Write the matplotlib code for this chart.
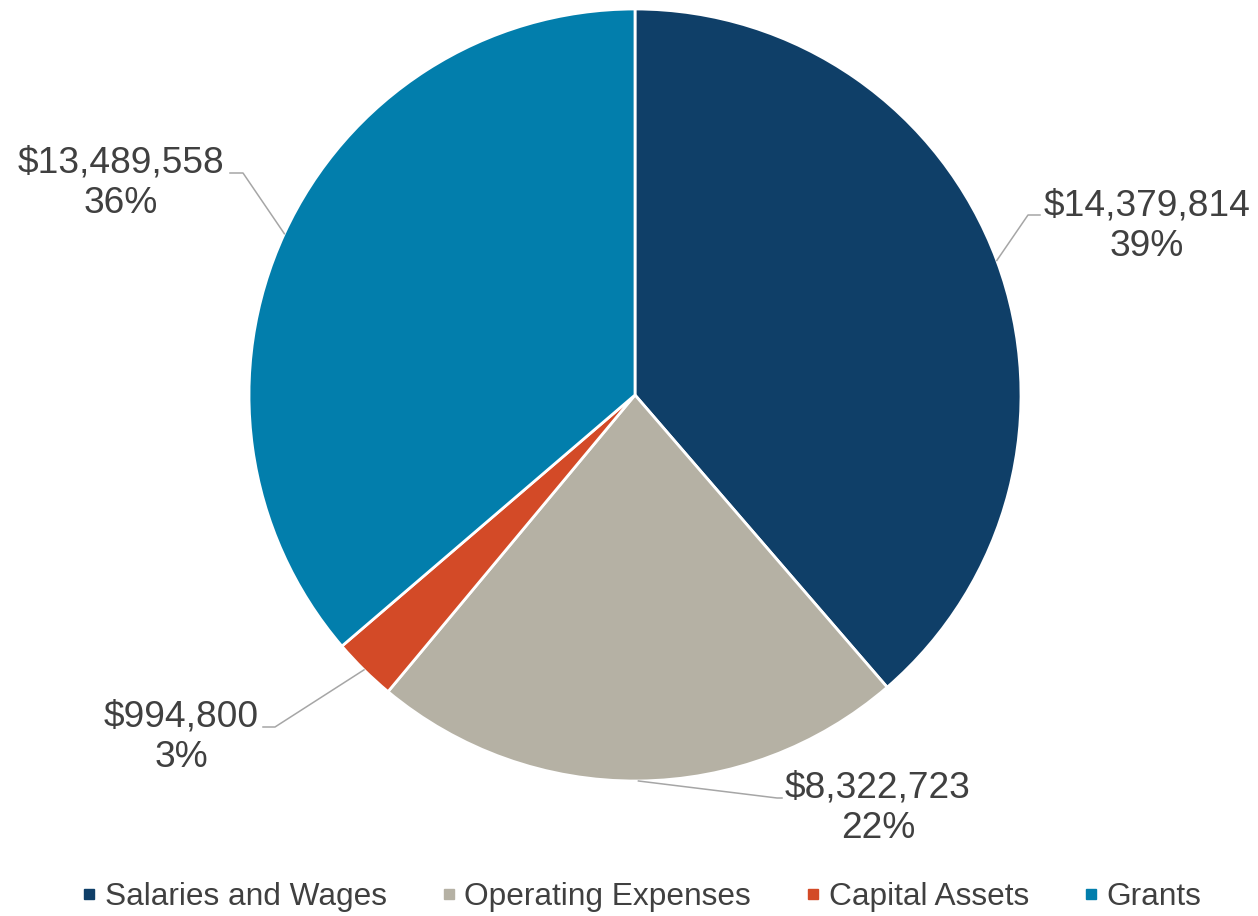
import matplotlib.pyplot as plt
from matplotlib.lines import Line2D
import numpy as np

# datos del gráfico
categorias = ["Salaries and Wages", "Operating Expenses", "Capital Assets", "Grants"]
montos = [14379814, 8322723, 994800, 13489558]
colores = ["#0F3F68", "#B5B1A4", "#D34A27", "#027EAC"]

# posiciones de las etiquetas (pixeles de la imagen) y codo de la linea guia
pos_texto = [(1147, 226), (878, 808), (181, 737), (121, 183)]
codo = [(1028, 215), (777, 798), (275, 727), (243, 173)]
fin_linea = [(1040, 215), (782, 798), (263, 727), (230, 173)]

W, H = 1258, 916
centro = (635, 395)
radio = 386
gris_texto = "#404040"

plt.rcParams['font.family'] = ['Liberation Sans', 'DejaVu Sans']

fig = plt.figure(figsize=(W / 100, H / 100), dpi=100)
ax = fig.add_axes([0, 0, 1, 1])

wedges, _ = ax.pie(montos, colors=colores, startangle=90, counterclock=False,
                   center=(centro[0], H - centro[1]), radius=radio,
                   wedgeprops=dict(edgecolor="white", linewidth=2))
ax.set_xlim(0, W)
ax.set_ylim(0, H)
ax.set_aspect('auto')
ax.axis('off')

total = sum(montos)
for i, w in enumerate(wedges):
    ang = np.deg2rad((w.theta1 + w.theta2) / 2)
    x0 = centro[0] + radio * np.cos(ang)
    y0 = (H - centro[1]) + radio * np.sin(ang)
    xs = [x0, codo[i][0], fin_linea[i][0]]
    ys = [y0, H - codo[i][1], H - fin_linea[i][1]]
    ax.plot(xs, ys, color="#A6A6A6", lw=1.1)
    pct = round(100 * montos[i] / total)
    ax.text(pos_texto[i][0], H - pos_texto[i][1], f"${montos[i]:,}\n{pct}%",
            ha='center', va='center', fontsize=26.7, color=gris_texto,
            linespacing=1.2)

# leyenda
handles = [Line2D([], [], marker='s', linestyle='none', markersize=7.2,
                  markerfacecolor=c, markeredgecolor=c) for c in colores]
fig.legend(handles, categorias, loc='center', bbox_to_anchor=(642 / W, 1 - 897 / H),
           ncol=4, frameon=False, fontsize=22.8, labelcolor=gris_texto,
           handlelength=0.4, handletextpad=0.3, columnspacing=1.75,
           borderpad=0, borderaxespad=0)

fig.savefig("out.png", dpi=100)
